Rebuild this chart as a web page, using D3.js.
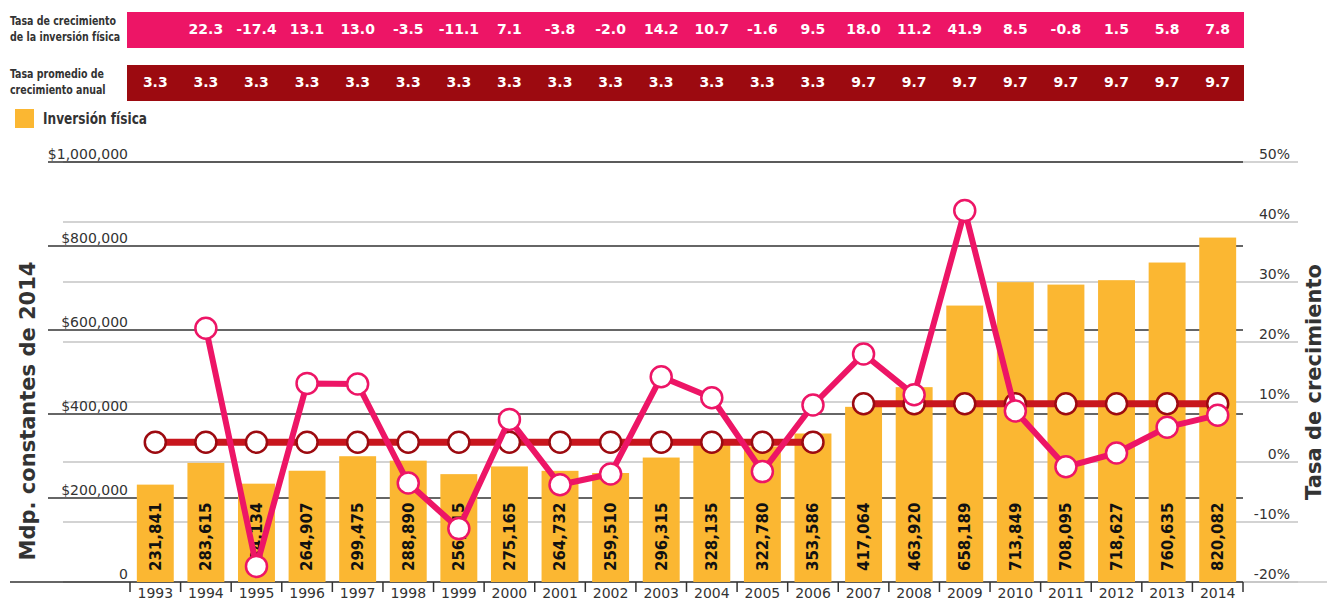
<!DOCTYPE html>
<html>
<head>
<meta charset="utf-8">
<script src="https://cdn.jsdelivr.net/npm/d3@7"></script>
<style>
  body { margin: 0; background: #fff; }
  svg { display: block; font-family: "DejaVu Sans", Verdana, sans-serif; }
</style>
</head>
<body>
<svg width="1327" height="602"></svg>
<script>
const years = ['1993', '1994', '1995', '1996', '1997', '1998', '1999', '2000', '2001', '2002', '2003',
    '2004', '2005', '2006', '2007', '2008', '2009', '2010', '2011', '2012', '2013', '2014'];

// inversion fisica, mdp constantes de 2014
const inversion = [231841, 283615, 234134, 264907, 299475, 288890, 256815, 275165, 264732, 259510, 296315,
    328135, 322780, 353586, 417064, 463920, 658189, 713849, 708095, 718627, 760635, 820082];

// growth rate, 1993 has none
const crecimiento = [null, 22.3, -17.4, 13.1, 13.0, -3.5, -11.1, 7.1, -3.8, -2.0, 14.2,
    10.7, -1.6, 9.5, 18.0, 11.2, 41.9, 8.5, -0.8, 1.5, 5.8, 7.8];

// average annual growth, two periods
const promedio = [3.3, 3.3, 3.3, 3.3, 3.3, 3.3, 3.3, 3.3, 3.3, 3.3, 3.3,
    3.3, 3.3, 3.3, 9.7, 9.7, 9.7, 9.7, 9.7, 9.7, 9.7, 9.7];
const periodos = [['1993', '2006'], ['2007', '2014']];

const leftTicks = [0, 200000, 400000, 600000, 800000, 1000000];
const rightTicks = [-20, -10, 0, 10, 20, 30, 40, 50];

const orange = '#FBB732';
const pink = '#ED1566';
const red = '#C8161D';
const darkRed = '#9C0A10';

const narrow = '"Liberation Sans Narrow", "DejaVu Sans Condensed", sans-serif';

const svg = d3.select('svg');

const x = d3.scaleBand()
    .domain(years)
    .range([130, 1243])
    .paddingInner(0.27)
    .paddingOuter(0.135);

const yL = d3.scaleLinear().domain([0, 1000000]).range([582, 162]);
const yR = d3.scaleLinear().domain([-20, 50]).range([582, 162]);

const cx = d => x(d) + x.bandwidth() / 2;

// ---- table bands on top
const bands = [
    { y: 12, fill: pink, label: ['Tasa de crecimiento', 'de la inversión física'], vals: crecimiento },
    { y: 65, fill: darkRed, label: ['Tasa promedio de', 'crecimiento anual'], vals: promedio }
];

bands.forEach(b => {
    svg.append('rect')
        .attr('x', 127).attr('y', b.y)
        .attr('width', 1244 - 127).attr('height', 36)
        .attr('fill', b.fill);

    // condensed label, squeezed a bit to fit left of the band
    svg.append('text')
        .attr('transform', `translate(10, ${b.y + 12.5}) scale(0.81, 1)`)
        .attr('fill', '#333')
        .style('font-family', narrow)
        .style('font-weight', 'bold')
        .style('font-size', '13px')
        .selectAll('tspan')
        .data(b.label)
        .enter()
        .append('tspan')
        .attr('x', 0)
        .attr('dy', (d, i) => i ? 16.5 : 0)
        .text(d => d);

    svg.append('g')
        .selectAll('text')
        .data(years.filter((d, i) => b.vals[i] !== null))
        .enter()
        .append('text')
        .attr('x', d => cx(d))
        .attr('y', b.y + 17)
        .attr('dy', '0.35em')
        .attr('text-anchor', 'middle')
        .attr('fill', '#fff')
        .style('font-weight', 'bold')
        .style('font-size', '14px')
        .text(d => b.vals[years.indexOf(d)].toFixed(1));
});

// ---- legend
svg.append('rect')
    .attr('x', 15).attr('y', 109)
    .attr('width', 19).attr('height', 19)
    .attr('fill', orange);

svg.append('text')
    .attr('transform', 'translate(43, 124) scale(0.9, 1)')
    .attr('fill', '#333')
    .style('font-family', narrow)
    .style('font-weight', 'bold')
    .style('font-size', '15px')
    .text('Inversión física');

// ---- gridlines
svg.append('g')
    .selectAll('line')
    .data(rightTicks)
    .enter()
    .append('line')
    .attr('x1', 63).attr('x2', 1298)
    .attr('y1', d => yR(d)).attr('y2', d => yR(d))
    .attr('stroke', '#c4c4c4')
    .attr('stroke-width', 1.5);

svg.append('g')
    .selectAll('line')
    .data(leftTicks)
    .enter()
    .append('line')
    .attr('x1', d => d === 0 ? 10 : 48).attr('x2', 1243)
    .attr('y1', d => yL(d)).attr('y2', d => yL(d))
    .attr('stroke', '#333')
    .attr('stroke-width', 1.5);

// left axis labels
svg.append('g')
    .selectAll('text')
    .data(leftTicks)
    .enter()
    .append('text')
    .attr('x', 128)
    .attr('y', d => yL(d) - 3)
    .attr('text-anchor', 'end')
    .attr('fill', '#333')
    .style('font-size', '14px')
    .text(d => d === 0 ? '0' : '$' + d3.format(',')(d));

// right axis labels
svg.append('g')
    .selectAll('text')
    .data(rightTicks)
    .enter()
    .append('text')
    .attr('x', 1290)
    .attr('y', d => yR(d) - 3)
    .attr('text-anchor', 'end')
    .attr('fill', '#333')
    .style('font-size', '14px')
    .text(d => d + '%');

// ---- bars
svg.append('g')
    .selectAll('rect')
    .data(years)
    .enter()
    .append('rect')
    .attr('x', d => x(d))
    .attr('y', (d, i) => yL(inversion[i]))
    .attr('width', x.bandwidth())
    .attr('height', (d, i) => yL(0) - yL(inversion[i]))
    .attr('fill', orange);

svg.append('g')
    .selectAll('text')
    .data(years)
    .enter()
    .append('text')
    .attr('transform', d => `translate(${cx(d)}, 571) rotate(-90)`)
    .attr('dy', '0.36em')
    .attr('fill', '#111')
    .style('font-weight', 'bold')
    .style('font-size', '15px')
    .text((d, i) => d3.format(',')(inversion[i]));

// ---- x axis
const xAxis = svg.append('g');
xAxis.append('line')
    .attr('x1', 1243).attr('x2', 1327)
    .attr('y1', 582).attr('y2', 582)
    .attr('stroke', '#c4c4c4').attr('stroke-width', 1.5);

xAxis.selectAll('line.tick')
    .data(years.concat(['end']))
    .enter()
    .append('line')
    .attr('class', 'tick')
    .attr('x1', d => d === 'end' ? 1243 : x(d) - x.step() * x.paddingOuter())
    .attr('x2', d => d === 'end' ? 1243 : x(d) - x.step() * x.paddingOuter())
    .attr('y1', 582).attr('y2', 592)
    .attr('stroke', '#333').attr('stroke-width', 1.5);

xAxis.selectAll('text')
    .data(years)
    .enter()
    .append('text')
    .attr('x', d => cx(d))
    .attr('y', 598)
    .attr('text-anchor', 'middle')
    .attr('fill', '#333')
    .style('font-size', '14px')
    .text(d => d);

// ---- axis titles
svg.append('text')
    .attr('transform', 'translate(27, 411) rotate(-90)')
    .attr('dy', '0.36em')
    .attr('text-anchor', 'middle')
    .attr('fill', '#333')
    .style('font-weight', 'bold')
    .style('font-size', '21px')
    .text('Mdp. constantes de 2014');

svg.append('text')
    .attr('transform', 'translate(1313, 382) rotate(-90)')
    .attr('dy', '0.36em')
    .attr('text-anchor', 'middle')
    .attr('fill', '#333')
    .style('font-weight', 'bold')
    .style('font-size', '21px')
    .text('Tasa de crecimiento');

// ---- average growth line, one piece per period
const line = d3.line()
    .x(d => cx(d.year))
    .y(d => yR(d.value));

periodos.forEach(p => {
    const pts = years
        .map((d, i) => ({ year: d, value: promedio[i] }))
        .filter(d => d.year >= p[0] && d.year <= p[1]);

    svg.append('path')
        .datum(pts)
        .attr('d', line)
        .attr('fill', 'none')
        .attr('stroke', red)
        .attr('stroke-width', 7);

    svg.append('g')
        .selectAll('circle')
        .data(pts)
        .enter()
        .append('circle')
        .attr('cx', d => cx(d.year))
        .attr('cy', d => yR(d.value))
        .attr('r', 10.5)
        .attr('fill', '#fff')
        .attr('stroke', darkRed)
        .attr('stroke-width', 2.5);
});

// ---- growth line
const growthPts = years
    .map((d, i) => ({ year: d, value: crecimiento[i] }))
    .filter(d => d.value !== null);

svg.append('path')
    .datum(growthPts)
    .attr('d', line)
    .attr('fill', 'none')
    .attr('stroke', pink)
    .attr('stroke-width', 6)
    .attr('stroke-linejoin', 'round');

svg.append('g')
    .selectAll('circle')
    .data(growthPts)
    .enter()
    .append('circle')
    .attr('cx', d => cx(d.year))
    .attr('cy', d => yR(d.value))
    .attr('r', 10.5)
    .attr('fill', '#fff')
    .attr('stroke', pink)
    .attr('stroke-width', 2.5);
</script>
</body>
</html>
